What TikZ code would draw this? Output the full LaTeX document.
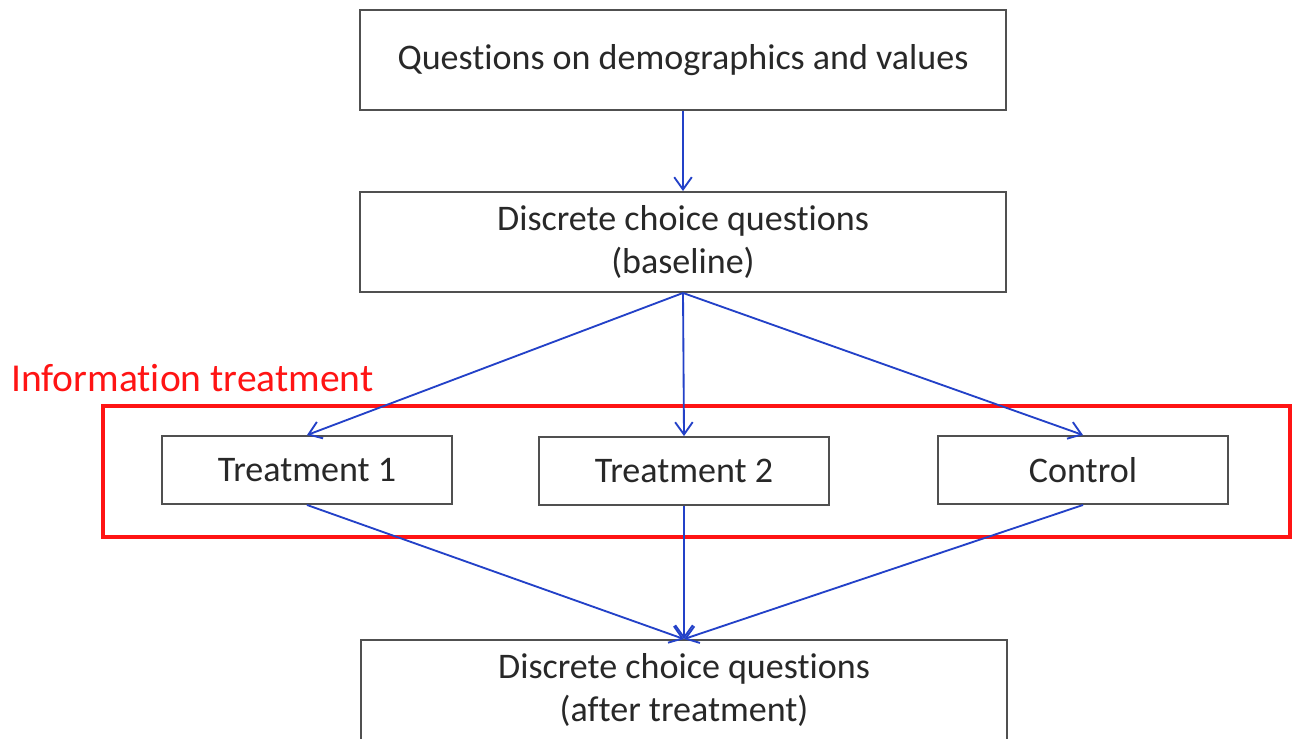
\documentclass[tikz,border=0pt]{standalone}
\usepackage{fontspec}
\setmainfont{Carlito}[Ligatures={NoCommon,NoDiscretionary,NoContextual}]
\usetikzlibrary{arrows.meta}
\definecolor{boxline}{RGB}{80,80,80}
\definecolor{boxtext}{RGB}{40,40,40}
\definecolor{flowblue}{RGB}{35,65,200}
\definecolor{infored}{RGB}{255,20,20}
\begin{document}
\begin{tikzpicture}[x={(0.02cm,0cm)}, y={(0cm,-0.02cm)}]
%styles des noeuds
\tikzstyle{stage}=[rectangle, draw=boxline, line width=1.1pt, text=boxtext, minimum width=12.92cm, minimum height=2cm, align=center, font=\fontsize{20.5}{25}\selectfont]
\tikzstyle{arm}=[rectangle, draw=boxline, line width=1.1pt, text=boxtext, minimum width=5.8cm, minimum height=1.36cm, font=\fontsize{20.5}{24}\selectfont]
\tikzstyle{flow}=[-{Straight Barb[length=7pt,width=10pt]}, draw=flowblue, line width=1.05pt]
%cadre
\useasboundingbox (0,0) rectangle (1297,738);
\clip (0,0) rectangle (1297,738);
\fill[white] (0,0) rectangle (1297,738);
%figure
\node[stage] (demo) at (683,60) {Questions on demographics and values};
\node[stage] (base) at (683,242) {Discrete choice questions\\(baseline)};
% information treatment
\draw[draw=infored, line width=2pt] (103,406) rectangle (1290,537);
\node[anchor=west, text=infored, font=\fontsize{22.5}{26}\selectfont] (info) at (5,378) {Information treatment};
\node[arm] (treatA) at (307,470) {Treatment 1};
\node[arm] (treatB) at (684,471) {Treatment 2};
\node[arm] (ctrl) at (1083,470) {Control};
% after
\node[stage] (after) at (684,690) {Discrete choice questions\\(after treatment)};
%fleches
\draw[flow] (demo.south) -- (base.north);
\draw[flow] (base.south) -- (treatA.north);
\draw[flow] (base.south) -- (treatB.north);
\draw[flow] (base.south) -- (ctrl.north);
\draw[flow] (treatA.south) -- (after.north);
\draw[flow] (treatB.south) -- (after.north);
\draw[flow] (ctrl.south) -- (after.north);
\end{tikzpicture}
\end{document}
